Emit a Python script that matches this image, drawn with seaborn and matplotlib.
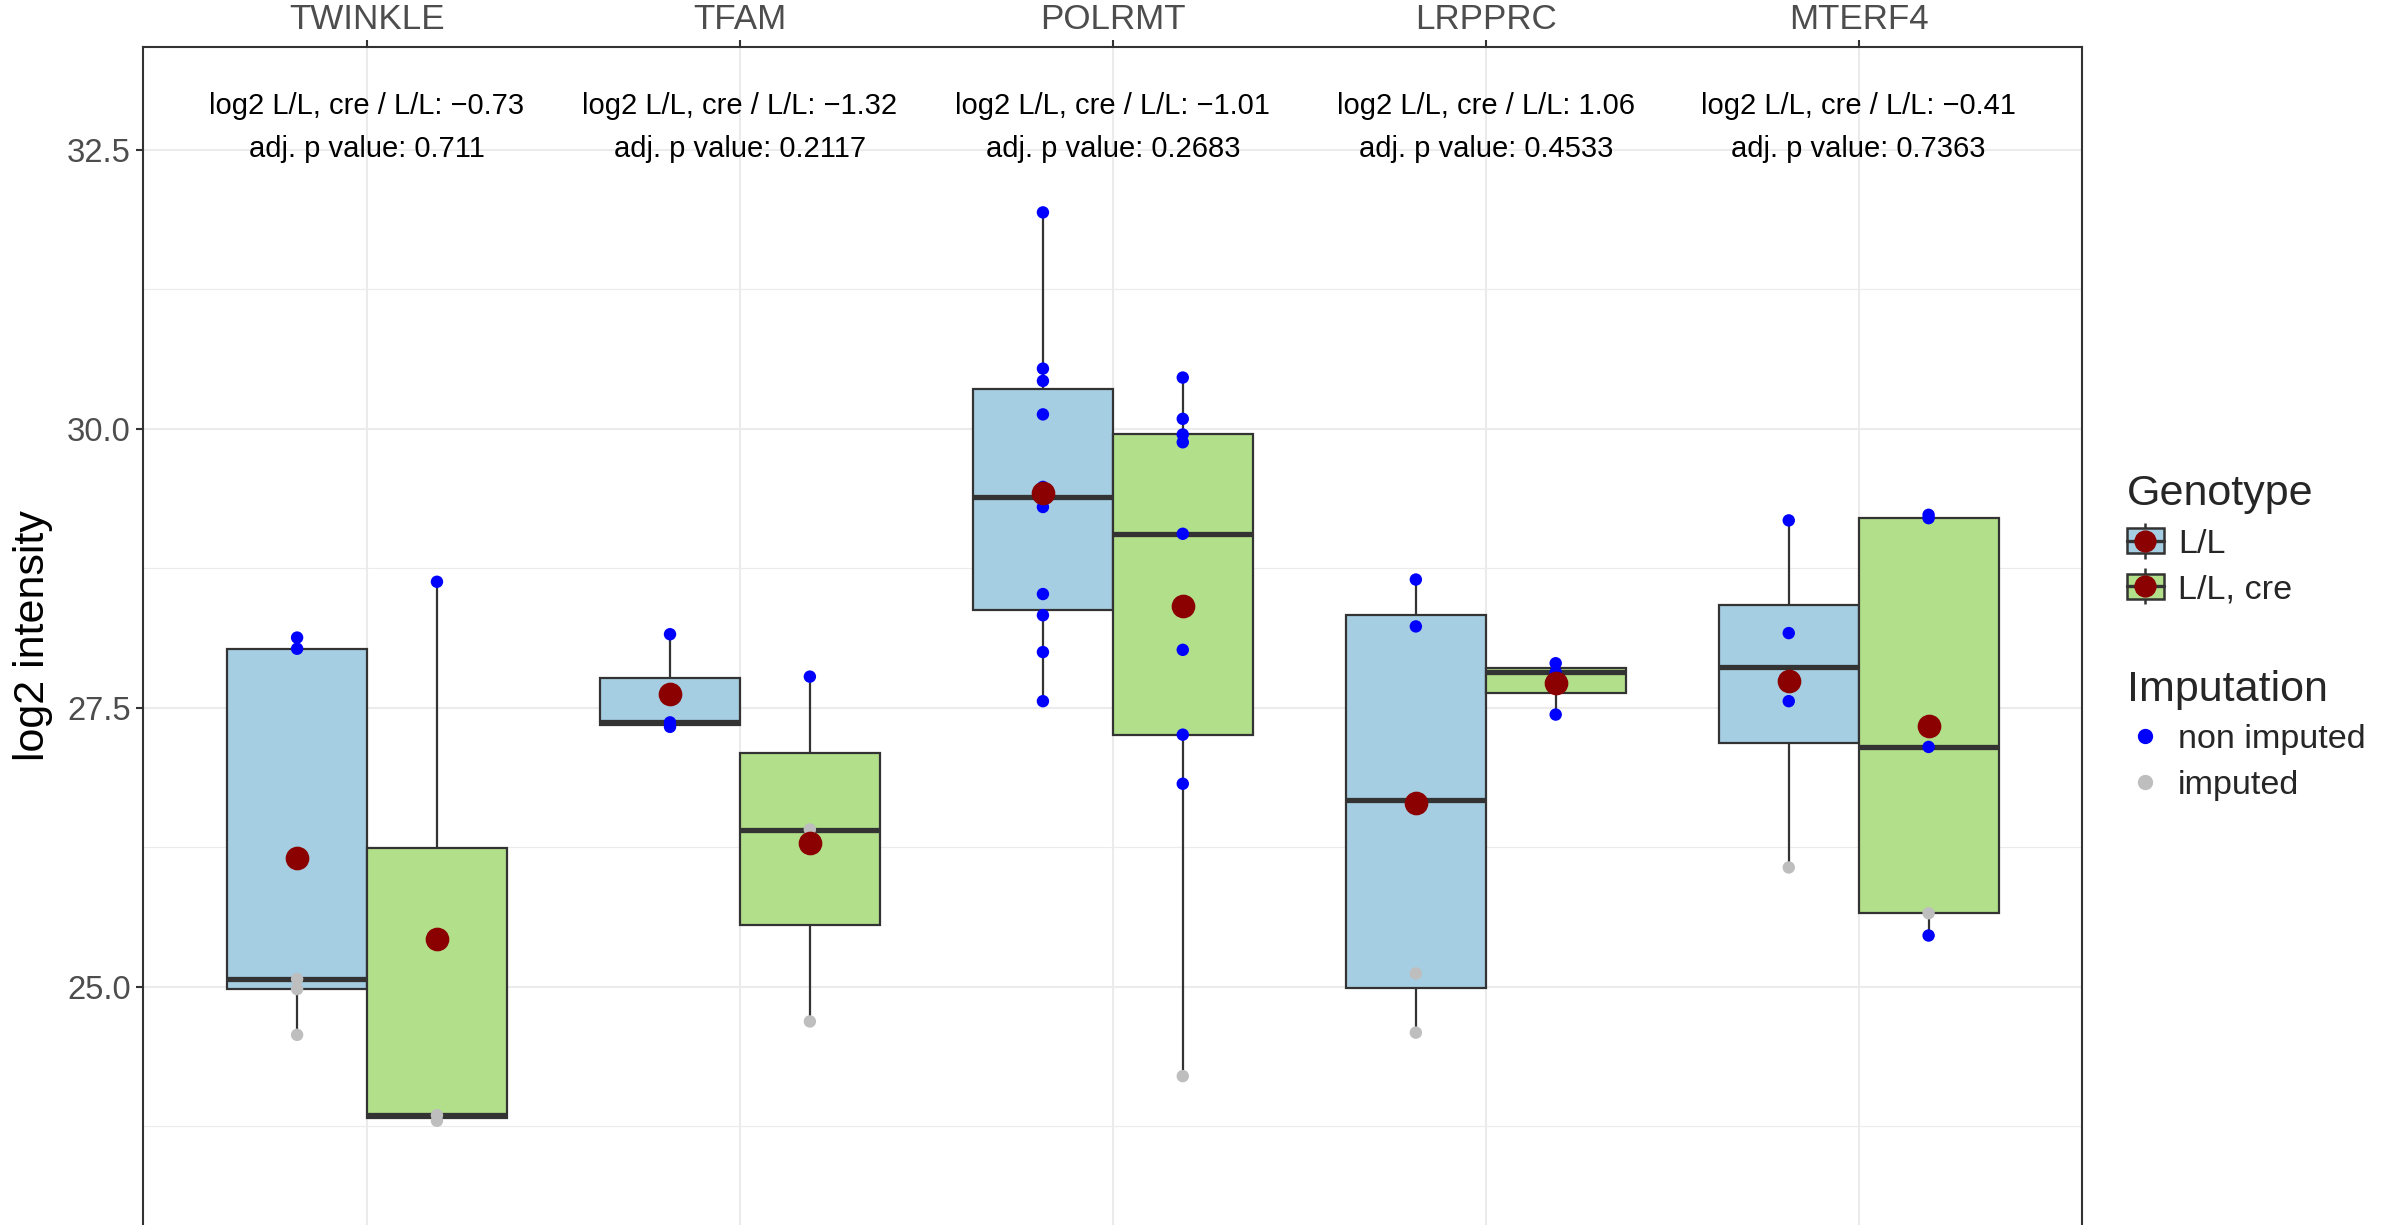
import pandas as pd
import seaborn as sns
import matplotlib.pyplot as plt
from matplotlib.patches import Patch
from matplotlib.lines import Line2D
from matplotlib.legend_handler import HandlerTuple

# Data
genes = ['TWINKLE', 'TFAM', 'POLRMT', 'LRPPRC', 'MTERF4']
genotypes = ['L/L', 'L/L, cre']

# log2 intensities per gene and genotype, flag 1 = imputed value
twinkle_ll = [28.13, 28.03, 25.07, 24.98, 24.57]
twinkle_ll_imp = [0, 0, 1, 1, 1]
twinkle_cre = [28.63, 23.85, 23.80]
twinkle_cre_imp = [0, 1, 1]

tfam_ll = [28.16, 27.37, 27.33]
tfam_ll_imp = [0, 0, 0]
tfam_cre = [27.78, 26.41, 24.69]
tfam_cre_imp = [0, 1, 1]

polrmt_ll = [31.94, 30.54, 30.43, 30.13, 29.48, 29.30, 28.52, 28.33, 28.00, 27.56]
polrmt_ll_imp = [0, 0, 0, 0, 0, 0, 0, 0, 0, 0]
polrmt_cre = [30.46, 30.09, 29.95, 29.88, 29.06, 28.02, 27.26, 26.82, 24.20]
polrmt_cre_imp = [0, 0, 0, 0, 0, 0, 0, 0, 1]

lrpprc_ll = [28.65, 28.23, 25.12, 24.59]
lrpprc_ll_imp = [0, 0, 1, 1]
lrpprc_cre = [27.90, 27.82, 27.44]
lrpprc_cre_imp = [0, 0, 0]

mterf4_ll = [29.18, 28.17, 27.56, 26.07]
mterf4_ll_imp = [0, 0, 0, 1]
mterf4_cre = [29.23, 29.20, 27.15, 25.66, 25.46]
mterf4_cre_imp = [0, 0, 0, 1, 0]

log2_ratio = ['\u22120.73', '\u22121.32', '\u22121.01', '1.06', '\u22120.41']
adj_p = ['0.711', '0.2117', '0.2683', '0.4533', '0.7363']

groups = [
    ('TWINKLE', 'L/L', twinkle_ll, twinkle_ll_imp),
    ('TWINKLE', 'L/L, cre', twinkle_cre, twinkle_cre_imp),
    ('TFAM', 'L/L', tfam_ll, tfam_ll_imp),
    ('TFAM', 'L/L, cre', tfam_cre, tfam_cre_imp),
    ('POLRMT', 'L/L', polrmt_ll, polrmt_ll_imp),
    ('POLRMT', 'L/L, cre', polrmt_cre, polrmt_cre_imp),
    ('LRPPRC', 'L/L', lrpprc_ll, lrpprc_ll_imp),
    ('LRPPRC', 'L/L, cre', lrpprc_cre, lrpprc_cre_imp),
    ('MTERF4', 'L/L', mterf4_ll, mterf4_ll_imp),
    ('MTERF4', 'L/L, cre', mterf4_cre, mterf4_cre_imp),
]
rows = []
for gene, geno, vals, imps in groups:
    for v, i in zip(vals, imps):
        rows.append({'gene': gene, 'genotype': geno, 'value': v,
                     'imputation': 'imputed' if i else 'non imputed'})
df = pd.DataFrame(rows)

# dodge position of each point (same as the dodged boxes)
box_w = 0.75
df['xpos'] = df['gene'].map(genes.index) + (df['genotype'].map(genotypes.index) - 0.5) * box_w / 2

box_colors = {'L/L': '#A6CEE3', 'L/L, cre': '#B2DF8A'}
pt_colors = {'non imputed': '#0000FF', 'imputed': '#BEBEBE'}
mean_color = '#8B0000'
edge = '#333333'

sns.set_theme(style='white')
plt.rcParams['font.family'] = ['Liberation Sans', 'DejaVu Sans']

fig = plt.figure(figsize=(11.92, 6.125), dpi=200)
ax = fig.add_axes([0.0601, 0.0, 0.8134, 0.9619])

sns.boxplot(data=df, x='gene', y='value', hue='genotype', order=genes, hue_order=genotypes,
            palette=box_colors, saturation=1, width=box_w, gap=0, showfliers=False,
            showcaps=False, linecolor=edge, linewidth=0.8, medianprops={'linewidth': 1.9},
            legend=False, ax=ax, zorder=2)

sns.scatterplot(data=df, x='xpos', y='value', hue='imputation', palette=pt_colors,
                s=20, linewidth=0, legend=False, ax=ax, zorder=3)

sns.pointplot(data=df, x='gene', y='value', hue='genotype', order=genes, hue_order=genotypes,
              palette={g: mean_color for g in genotypes}, estimator='mean', errorbar=None,
              dodge=box_w / 2, linestyle='none', markers='o', markersize=6.5,
              legend=False, ax=ax, zorder=4)

# annotations above each gene
for i, gene in enumerate(genes):
    ax.text(i, 32.89, f'log2 L/L, cre / L/L: {log2_ratio[i]}', ha='center', va='center',
            fontsize=10.5, color='black')
    ax.text(i, 32.51, f'adj. p value: {adj_p[i]}', ha='center', va='center',
            fontsize=10.5, color='black')

ax.set_xlim(-0.6, 4.6)
ax.set_ylim(22.866, 33.425)
ax.set_yticks([25.0, 27.5, 30.0, 32.5])
ax.set_yticklabels(['25.0', '27.5', '30.0', '32.5'])
ax.set_yticks([23.75, 26.25, 28.75, 31.25], minor=True)
ax.set_xticks(range(len(genes)))
ax.set_xticklabels(genes)
ax.xaxis.tick_top()
ax.set_xlabel('')
ax.set_ylabel('log2 intensity', fontsize=15.5, color='black', labelpad=5)

ax.grid(True, which='major', color='#EBEBEB', linewidth=0.75, zorder=0)
ax.grid(True, which='minor', axis='y', color='#EBEBEB', linewidth=0.4, zorder=0)
ax.set_axisbelow(True)
ax.tick_params(axis='y', which='major', length=2.5, width=0.75, color=edge,
               labelsize=11.8, labelcolor='#4D4D4D', pad=2, left=True)
ax.tick_params(axis='y', which='minor', length=0, left=False)
ax.tick_params(axis='x', which='major', length=2.5, width=0.75, color=edge,
               labelsize=12.6, labelcolor='#4D4D4D', pad=1.5, top=True, bottom=False)
for side in ['left', 'right', 'top']:
    ax.spines[side].set_color(edge)
    ax.spines[side].set_linewidth(0.75)
    ax.spines[side].set_visible(True)
ax.spines['bottom'].set_visible(False)

# legends
geno_handles = []
for g in genotypes:
    whisk = Line2D([], [], marker='|', markersize=13, markeredgewidth=0.9, color=edge, linestyle='none')
    box = Patch(facecolor=box_colors[g], edgecolor=edge, linewidth=0.9)
    med = Line2D([], [], color=edge, linewidth=1.2)
    dot = Line2D([], [], marker='o', markersize=7, color=mean_color, linestyle='none')
    geno_handles.append((whisk, box, med, dot))

leg1 = fig.legend(geno_handles, genotypes, title='Genotype', loc='upper left',
                  bbox_to_anchor=(0.892, 0.613), frameon=False, fontsize=12.3, title_fontsize=15.5,
                  handler_map={tuple: HandlerTuple(ndivide=1)}, handlelength=1.1,
                  handleheight=0.75, handletextpad=0.4, labelspacing=0.42, borderpad=0,
                  borderaxespad=0, alignment='left')

imp_handles = [Line2D([], [], marker='o', markersize=4.5, color=pt_colors[k], linestyle='none')
               for k in ['non imputed', 'imputed']]
leg2 = fig.legend(imp_handles, ['non imputed', 'imputed'], title='Imputation', loc='upper left',
                  bbox_to_anchor=(0.892, 0.453), frameon=False, fontsize=12.3, title_fontsize=15.5,
                  handlelength=1.1, handletextpad=0.4, labelspacing=0.42, borderpad=0,
                  borderaxespad=0, alignment='left')

fig.savefig('out.png', dpi=200)
plt.close()
